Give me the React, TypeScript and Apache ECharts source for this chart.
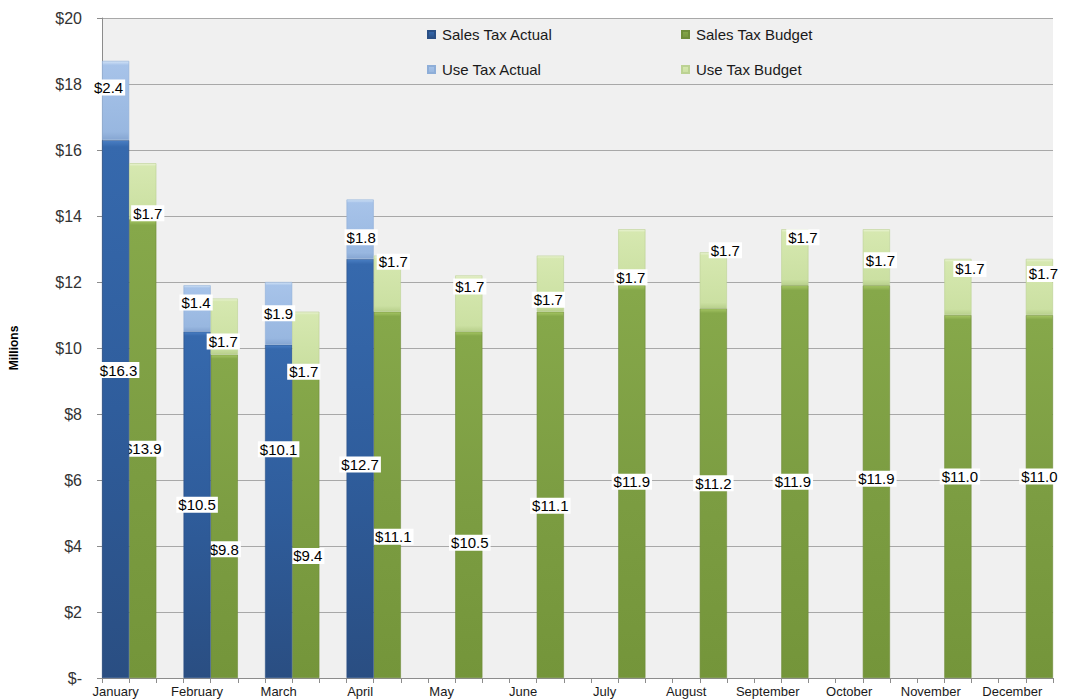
import React, { useEffect, useRef } from "react";
import * as echarts from "echarts";

// ---- data (millions of dollars) ----
const months = [
  "January", "February", "March", "April", "May", "June",
  "July", "August", "September", "October", "November", "December",
];
const salesTaxActual: (number | null)[] = [16.3, 10.5, 10.1, 12.7, null, null, null, null, null, null, null, null];
const useTaxActual: (number | null)[] = [2.4, 1.4, 1.9, 1.8, null, null, null, null, null, null, null, null];
const salesTaxBudget: number[] = [13.9, 9.8, 9.4, 11.1, 10.5, 11.1, 11.9, 11.2, 11.9, 11.9, 11.0, 11.0];
const useTaxBudget: number[] = [1.7, 1.7, 1.7, 1.7, 1.7, 1.7, 1.7, 1.7, 1.7, 1.7, 1.7, 1.7];
const yMin = 0;
const yMax = 20;
const yStep = 2;

// ---- label nudges (layout only, [dx, dy] in px) ----
const nudgeSalesActual = [[3, -39], [0, 0], [0, -62], [0, -4]];
const nudgeUseActual = [[-7, -13], [-1, -6], [0, 0], [1, 8]];
const nudgeSalesBudget = [[0, 0], [0, 33], [2, 33], [6, 42], [1, 38], [0, 11], [0, 0], [0, -10], [-2, 0], [0, -3], [2, -20], [0, -20]];
const nudgeUseBudget = [[5, 22], [-1, 15], [-2, 32], [6, -22], [1, -17], [-2, 16], [-1, 20], [12, -30], [8, -20], [4, 3], [12, -18], [4, -13]];

// three slots per month: actual, budget, gap (last gap dropped)
const slotCount = months.length * 3 - 1;
const slots: string[] = [];
for (let i = 0; i < slotCount; i++) slots.push(i % 3 === 0 ? months[i / 3] : "");

function toSlots(values: (number | null)[], offset: number, nudges: number[][]) {
  const arr: any[] = new Array(slotCount).fill(null);
  values.forEach((v, i) => {
    if (v === null || v === undefined) return;
    const n = nudges[i] || [0, 0];
    arr[i * 3 + offset] = { value: v, label: { offset: n } };
  });
  return arr;
}

const vGrad = (stops: [number, string][]) =>
  new echarts.graphic.LinearGradient(0, 0, 0, 1, stops.map(([offset, color]) => ({ offset, color })));

const labelStyle = {
  show: true,
  position: "inside",
  formatter: (p: any) => "$" + Number(p.value).toFixed(1),
  color: "#000",
  fontFamily: "Liberation Sans, Arial, sans-serif",
  fontSize: 15,
  lineHeight: 16,
  backgroundColor: "#ffffff",
  padding: [0, 2, 0, 2],
};

export default function App() {
  const ref = useRef<HTMLDivElement>(null);
  useEffect(() => {
    if (!ref.current) return;
    const chart = echarts.init(ref.current, undefined, { renderer: "svg" });
    const font = "Liberation Sans, Arial, sans-serif";
    const legendBase = {
      icon: "rect",
      itemWidth: 7,
      itemHeight: 7,
      padding: 0,
      textStyle: { fontFamily: font, fontSize: 15, color: "#1a1a1a", padding: [0, 0, 0, 2] },
    };
    const option: any = {
      animation: false,
      textStyle: { fontFamily: font },
      grid: {
        left: 97, right: 17, top: 18, bottom: 22,
        show: true, backgroundColor: "#f0f0f0", borderWidth: 0,
      },
      legend: [
        { ...legendBase, data: ["Sales Tax Actual"], left: 427, top: 27 },
        { ...legendBase, data: ["Sales Tax Budget"], left: 681, top: 27 },
        { ...legendBase, data: ["Use Tax Actual"], left: 427, top: 62 },
        { ...legendBase, data: ["Use Tax Budget"], left: 681, top: 62 },
      ],
      xAxis: {
        type: "category",
        data: slots,
        boundaryGap: true,
        axisLine: { show: true, lineStyle: { color: "#8c8c8c", width: 1 } },
        axisTick: { show: true, interval: 0, alignWithLabel: false, length: 5, lineStyle: { color: "#8c8c8c" } },
        axisLabel: {
          interval: 0,
          formatter: (_v: string, idx: number) => (idx % 3 === 0 ? months[idx / 3] : ""),
          fontFamily: font,
          fontSize: 13,
          color: "#1a1a1a",
          margin: 7,
        },
        splitLine: { show: false },
      },
      yAxis: {
        type: "value",
        min: yMin,
        max: yMax,
        interval: yStep,
        name: "Millions",
        nameLocation: "middle",
        nameRotate: 90,
        nameGap: 82,
        nameTextStyle: { fontFamily: font, fontSize: 12, fontWeight: "bold", color: "#000" },
        axisLine: { show: true, lineStyle: { color: "#8c8c8c", width: 1 } },
        axisTick: { show: true, length: 5, lineStyle: { color: "#8c8c8c" } },
        axisLabel: {
          formatter: (v: number) => (v === 0 ? "$-" : "$" + v),
          fontFamily: font,
          fontSize: 16,
          color: "#333",
          margin: 20,
        },
        splitLine: { show: true, lineStyle: { color: "#a8a8a8", width: 1 } },
      },
      series: [
        {
          name: "Sales Tax Actual",
          type: "bar",
          stack: "all",
          z: 4,
          barCategoryGap: "0%",
          data: toSlots(salesTaxActual, 0, nudgeSalesActual),
          itemStyle: {
            color: vGrad([[0, "#4a7fc4"], [0.012, "#3669ad"], [0.5, "#2f5d9c"], [1, "#2a4e82"]]),
            borderColor: "#2a4f85",
            borderWidth: 0.6,
          },
          label: labelStyle,
        },
        {
          name: "Sales Tax Budget",
          type: "bar",
          stack: "all",
          z: 3,
          barCategoryGap: "0%",
          data: toSlots(salesTaxBudget, 1, nudgeSalesBudget),
          itemStyle: {
            color: vGrad([[0, "#a6c665"], [0.012, "#86a84a"], [0.5, "#7c9d42"], [1, "#74953a"]]),
            borderColor: "#6e8c38",
            borderWidth: 0.6,
          },
          label: labelStyle,
        },
        {
          name: "Use Tax Actual",
          type: "bar",
          stack: "all",
          z: 5,
          barCategoryGap: "0%",
          data: toSlots(useTaxActual, 0, nudgeUseActual),
          itemStyle: {
            color: vGrad([[0, "#d2e3f7"], [0.05, "#a7c3e9"], [0.9, "#98b7e0"], [1, "#86a6d2"]]),
            borderColor: "#8eaed8",
            borderWidth: 0.6,
          },
          label: labelStyle,
        },
        {
          name: "Use Tax Budget",
          type: "bar",
          stack: "all",
          z: 5,
          barCategoryGap: "0%",
          data: toSlots(useTaxBudget, 1, nudgeUseBudget),
          itemStyle: {
            color: vGrad([[0, "#eaf3d4"], [0.05, "#d6e8b0"], [0.9, "#cbe0a2"], [1, "#b8d08c"]]),
            borderColor: "#bcd293",
            borderWidth: 0.6,
          },
          label: labelStyle,
        },
      ],
    };
    chart.setOption(option);
    return () => chart.dispose();
  }, []);
  return (
    <div
      ref={ref}
      style={{ position: "fixed", left: 0, top: 0, width: 1070, height: 700, background: "#ffffff" }}
    />
  );
}
